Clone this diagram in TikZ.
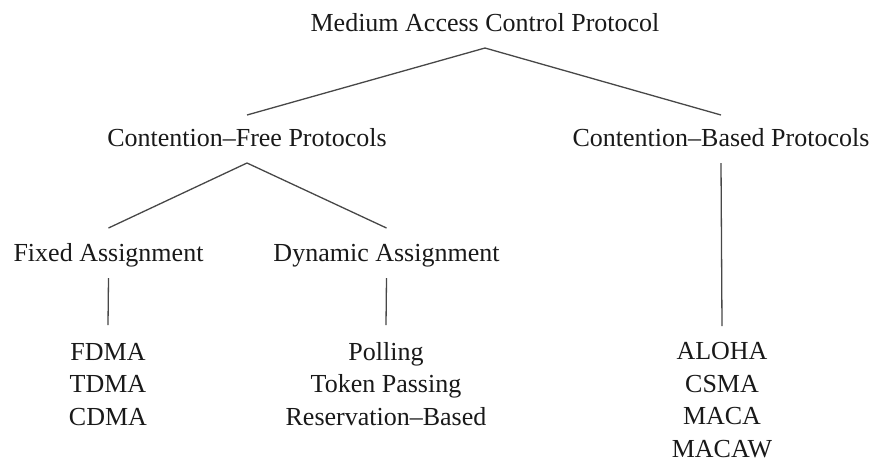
\documentclass[tikz,border=0pt]{standalone}
\usepackage{fontspec}
\setmainfont{Liberation Serif}
\begin{document}
\begin{tikzpicture}[x=1pt,y=-1pt,
  lbl/.style={anchor=base,inner sep=0pt,text=black!90,font=\fontsize{26}{32.5}\selectfont},
  lst/.style={lbl,align=center},
  edge/.style={draw=black!72,line width=1.3pt}]
\useasboundingbox (0,0) rectangle (875,459);
\node[lbl] (mac) at (485,31.5) {Medium Access Control Protocol};
\node[lbl] (cfp) at (247,146.7) {Contention--Free Protocols};
\node[lbl] (cbp) at (721,146.7) {Contention--Based Protocols};
\node[lbl] (fix) at (108.5,261.7) {Fixed Assignment};
\node[lbl] (dyn) at (386.5,261.7) {Dynamic Assignment};
% base anchor of a multi-line node is the baseline of its last line
\node[lst] (fl) at (108,425) {FDMA\\TDMA\\CDMA};
\node[lst] (dl) at (386,425) {Polling\\Token Passing\\Reservation--Based};
\node[lst,text depth=0pt] (cl) at (722,457) {ALOHA\\CSMA\\MACA\\MACAW};
\draw[edge] ([yshift=31.7pt]cfp.base) -- ([yshift=-16.5pt]mac.base) -- ([yshift=31.7pt]cbp.base);
\draw[edge] ([yshift=33.7pt]fix.base) -- ([yshift=-16.3pt]cfp.base) -- ([yshift=33.7pt]dyn.base);
\draw[edge] ([yshift=-16.3pt]fix.base) -- ([yshift=100pt]fl.base);
\draw[edge] ([yshift=-16.3pt]dyn.base) -- ([yshift=100pt]dl.base);
\draw[edge] ([yshift=-16.3pt]cbp.base) -- ([yshift=131pt]cl.base);
\end{tikzpicture}
\end{document}
